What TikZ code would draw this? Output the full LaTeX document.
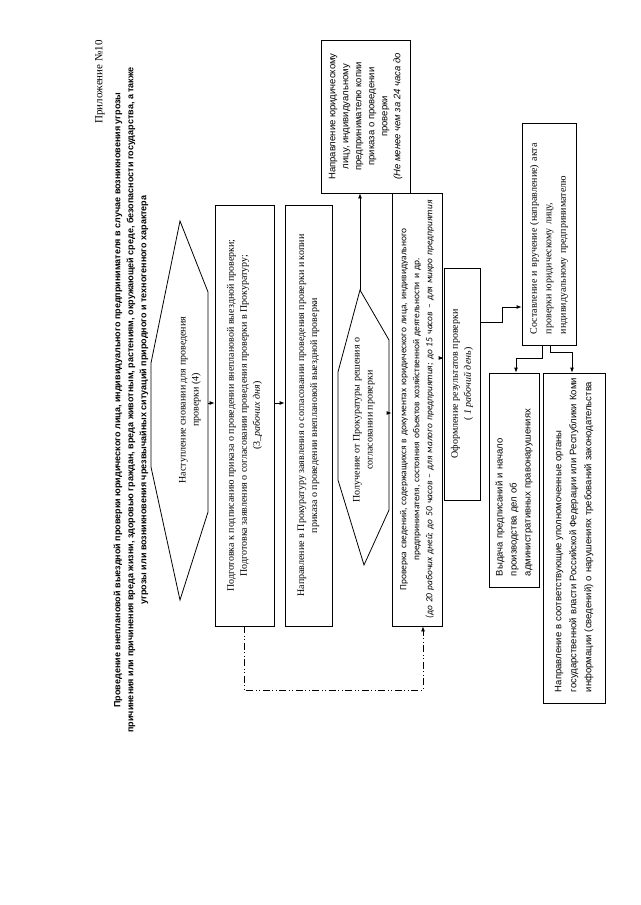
\documentclass[tikz,border=0pt]{standalone}
\usepackage{fontspec}
\setmainfont{Liberation Serif}
\newfontfamily\arialf{Liberation Sans}
\newfontfamily\calf{Carlito}
\usetikzlibrary{arrows.meta}
\begin{document}
\begin{tikzpicture}[x=1pt,y=-1pt,
  every node/.style={inner sep=0pt},
  box/.style={draw, line width=0.8pt, rotate=90, align=center},
  lbox/.style={draw, line width=0.8pt, rotate=90, align=left, inner xsep=11pt},
  shp/.style={draw, line width=0.8pt},
  arr/.style={line width=0.8pt, -{Latex[length=5pt,width=4pt]}},
  conn/.style={line width=0.8pt},
  dd/.style={line width=1pt, dash pattern=on 7pt off 2.5pt on 1pt off 2.5pt on 1pt off 2.5pt},
  tserif/.style={font=\fontsize{10}{13}\selectfont},
  tarial/.style={font=\arialf\fontsize{9.5}{13}\selectfont},
  tcal/.style={font=\calf\fontsize{9.4}{13}\selectfont}
]
\path[use as bounding box, fill=white] (0,0) rectangle (640,905);

% title
\node[rotate=90, anchor=east, font=\fontsize{11}{13}\selectfont] (app) at (100,40) {Приложение №10};
\node[rotate=90, align=center, font=\arialf\bfseries\fontsize{9}{13}\selectfont] (title) at (131,400)
{Проведение внеплановой выездной проверки юридического лица, индивидуального предпринимателя в случае возникновения угрозы\\
причинения или причинения вреда жизни, здоровью граждан, вреда животным, растениям, окружающей среде, безопасности государства, а также\\
угрозы или возникновения чрезвычайных ситуаций природного и техногенного характера};

% hexagon 1
\coordinate (h1t) at (180,221);
\coordinate (h1ur) at (208,292);
\coordinate (h1lr) at (208,512);
\coordinate (h1b) at (180,600);
\coordinate (h1ll) at (151,467);
\coordinate (h1ul) at (151,363);
\draw[shp] (h1t) -- (h1ur) -- (h1lr) -- (h1b) -- (h1ll) -- (h1ul) -- cycle;
\node[tserif, rotate=90, align=center] (h1) at (190,400) {Наступление сновании для проведения\\проверки (4)};
\coordinate (h1out) at (208,403);

% boxes
\node[box, tserif, minimum width=421pt, minimum height=59pt] (b1) at (244.5,415.5)
{Подготовка к подписанию приказа о проведении внеплановой выездной проверки;\\
Подготовка заявления о согласовании проведения проверки в Прокуратуру;\\
(3\_\textit{рабочих дня})};

\node[box, tserif, minimum width=421pt, minimum height=47pt] (b2) at (308.5,415.5)
{Направление в Прокуратуру заявления о согласовании проведения проверки и копии\\
приказа о проведении внеплановой выездной проверки};

\node[box, tarial, minimum width=153pt, minimum height=89pt] (bN) at (365.5,116.5)
{Направление юридическому\\лицу, индивидуальному\\предпринимателю копии\\приказа о проведении\\проверки\\\textit{(Не менее чем за 24 часа до}};

\node[box, tcal, text width=431pt, minimum width=433pt, minimum height=50pt] (b3) at (417,409.5)
{\makebox[431pt]{Проверка сведений, содержащихся в документах юридического лица, индивидуального}\\
\makebox[431pt]{предпринимателя, состояния объектов хозяйственной деятельности и др.}\\
\makebox[431pt]{\textit{(до 20 рабочих дней; до 50 часов – для малого предприятия; до 15 часов – для микро предприятия}}};

\node[box, tserif, minimum width=232pt, minimum height=36pt] (b4) at (462,384)
{Оформление результатов проверки\\(\textit{ 1 рабочий день})};

\node[lbox, font=\fontsize{10}{14.5}\selectfont, text width=200pt, minimum height=54pt] (b5) at (549,234)
{\mbox{Составление и вручение (направление) акта}\\\mbox{проверки юридическому лицу,}\\\mbox{индивидуальному предпринимателю}};

\node[lbox, font=\arialf\fontsize{9.5}{14}\selectfont, text width=192pt, minimum height=50pt] (b6) at (514,480)
{\mbox{Выдача предписаний и начало}\\\mbox{производства дел об}\\\mbox{административных правонарушениях}};

\node[lbox, font=\arialf\fontsize{9.5}{15}\selectfont, text width=308pt, minimum height=62pt] (b7) at (574,538)
{\mbox{Направление в соответствующие уполномоченные органы}\\\mbox{государственной власти Российской Федерации или Республики Коми}\\\mbox{информации (сведений) о нарушениях требований законодательства}};

% hexagon 2
\coordinate (h2t) at (360,290);
\coordinate (h2ur) at (389,340);
\coordinate (h2lr) at (389,510);
\coordinate (h2b) at (364,565);
\coordinate (h2ll) at (338,480);
\coordinate (h2ul) at (338,372);
\draw[shp] (h2t) -- (h2ur) -- (h2lr) -- (h2b) -- (h2ll) -- (h2ul) -- cycle;
\node[tserif, rotate=90, align=center] (h2) at (364,420) {Получение от Прокуратуры решения о\\согласовании проверки};
\coordinate (h2out) at (389,413);

% connectors
\draw[arr] (h1out) -- (h1out -| b1.north);
\draw[arr] (b1.south |- h1out) -- (b2.north |- h1out);
\draw[arr] (h2t) -- (h2t |- bN.west);
\draw[arr] (h2out) -- (h2out -| b3.north);
\coordinate (c358) at (442,358);
\draw[arr] (b3.south |- c358) -- (b4.north |- c358);
\coordinate (k1) at (502,322);
\coordinate (k2) at (502,307);
\draw[arr] (b4.south |- k1) -- (k1) -- (k2) -- (b5.north |- k2);
\coordinate (k3) at (542,358);
\coordinate (k4) at (516,358);
\draw[arr] (b5.west -| k3) -- (k3) -- (k4) -- (k4 |- b6.east);
\coordinate (k5) at (550,352);
\coordinate (k6) at (572,352);
\draw[arr] (b5.west -| k5) -- (k5) -- (k6) -- (k6 |- b7.east);
\coordinate (d1) at (244,690);
\coordinate (d2) at (423,690);
\draw[dd, arr] (b1.west -| d1) -- (d1) -- (d2) -- (d2 |- b3.west);
\end{tikzpicture}
\end{document}
